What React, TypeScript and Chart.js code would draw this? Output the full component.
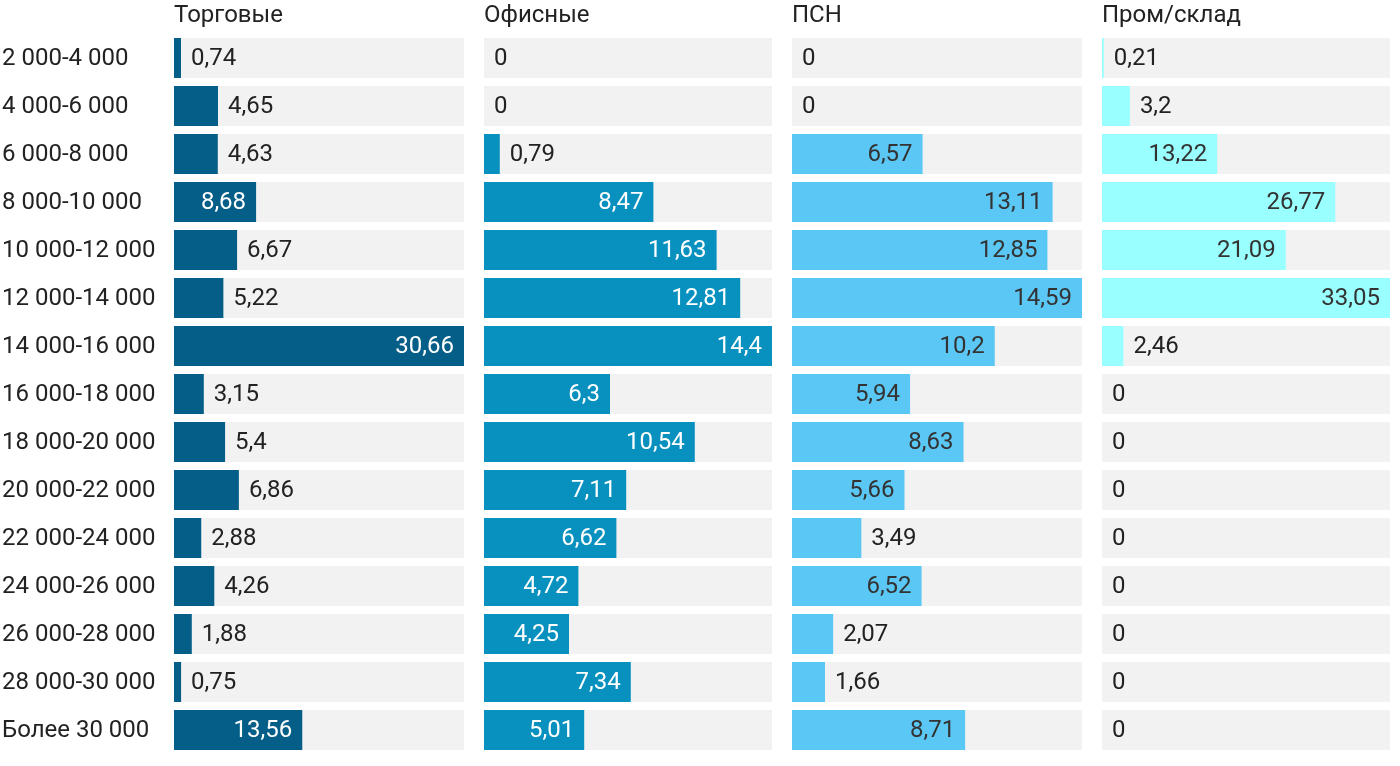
import React, { useEffect, useRef } from "react";
import { Chart, registerables } from "chart.js";

Chart.register(...registerables);

// ---------- data ----------
const categories = [
  "2 000-4 000",
  "4 000-6 000",
  "6 000-8 000",
  "8 000-10 000",
  "10 000-12 000",
  "12 000-14 000",
  "14 000-16 000",
  "16 000-18 000",
  "18 000-20 000",
  "20 000-22 000",
  "22 000-24 000",
  "24 000-26 000",
  "26 000-28 000",
  "28 000-30 000",
  "Более 30 000",
];

const panelTitles = ["Торговые", "Офисные", "ПСН", "Пром/склад"];

const retail = [0.74, 4.65, 4.63, 8.68, 6.67, 5.22, 30.66, 3.15, 5.4, 6.86, 2.88, 4.26, 1.88, 0.75, 13.56];
const office = [0, 0, 0.79, 8.47, 11.63, 12.81, 14.4, 6.3, 10.54, 7.11, 6.62, 4.72, 4.25, 7.34, 5.01];
const psn = [0, 0, 6.57, 13.11, 12.85, 14.59, 10.2, 5.94, 8.63, 5.66, 3.49, 6.52, 2.07, 1.66, 8.71];
const industrial = [0.21, 3.2, 13.22, 26.77, 21.09, 33.05, 2.46, 0, 0, 0, 0, 0, 0, 0, 0];

const seriesList = [retail, office, psn, industrial];

// ---------- styles ----------
const FONT_FAMILY = "Roboto, 'Noto Sans', 'DejaVu Sans', sans-serif";
const FONT_SIZE = 24;
const TEXT_DARK = "#222222";
const TRACK = "#f2f2f2";
const barColors = ["#045e87", "#0891bf", "#5bc7f5", "#99ffff"];
const insideText = ["#ffffff", "#ffffff", "#333333", "#333333"];

const panelLayout = [
  { left: 0, width: 464, showLabels: true },
  { left: 484, width: 288, showLabels: false },
  { left: 792, width: 290, showLabels: false },
  { left: 1102, width: 288, showLabels: false },
];

const CANVAS_H = 766;

const fmt = (v: number) => String(v).replace(".", ",");

const valueLabelPlugin = {
  id: "valueLabels",
  afterDatasetsDraw(chart: any, _args: any, opts: any) {
    const meta = chart.getDatasetMeta(0);
    const data = chart.data.datasets[0].data as number[];
    const ctx = chart.ctx;
    ctx.save();
    ctx.font = `${FONT_SIZE}px ${FONT_FAMILY}`;
    ctx.textBaseline = "middle";
    meta.data.forEach((el: any, i: number) => {
      const text = fmt(data[i]);
      const tw = ctx.measureText(text).width;
      const barW = el.x - el.base;
      const y = el.y + 1;
      if (barW - tw >= 26) {
        ctx.textAlign = "right";
        ctx.fillStyle = opts.inside;
        ctx.fillText(text, el.x - 10, y);
      } else {
        ctx.textAlign = "left";
        ctx.fillStyle = TEXT_DARK;
        ctx.fillText(text, el.x + 10, y);
      }
    });
    ctx.restore();
  },
};

function Panel({ index }: { index: number }) {
  const ref = useRef<HTMLCanvasElement | null>(null);
  const layout = panelLayout[index];
  useEffect(() => {
    if (!ref.current) return;
    const values = seriesList[index];
    const maxV = Math.max(...values);
    const track = values.map(() => maxV);
    const chart = new Chart(ref.current, {
      type: "bar",
      data: {
        labels: categories,
        datasets: [
          {
            data: values,
            backgroundColor: barColors[index],
            borderWidth: 0,
            barThickness: 40,
            inflateAmount: 0,
            grouped: false,
            order: 0,
          } as any,
          {
            data: track,
            backgroundColor: TRACK,
            borderWidth: 0,
            barThickness: 40,
            inflateAmount: 0,
            grouped: false,
            order: 1,
          } as any,
        ],
      },
      options: {
        indexAxis: "y",
        responsive: false,
        animation: false,
        layout: {
          padding: { left: layout.showLabels ? 2 : 0, right: 0, top: 0, bottom: 12 },
        },
        plugins: {
          legend: { display: false },
          tooltip: { enabled: false },
          valueLabels: { inside: insideText[index] },
        } as any,
        scales: {
          x: {
            type: "linear",
            position: "top",
            min: 0,
            max: maxV,
            grid: { display: false },
            border: { display: false },
            ticks: { display: false },
            title: {
              display: true,
              text: panelTitles[index],
              align: "start",
              color: TEXT_DARK,
              font: { family: FONT_FAMILY, size: FONT_SIZE, lineHeight: 1.2 },
              padding: { top: 2, bottom: 0 },
            },
            afterFit: (s: any) => {
              s.height = 34;
            },
          },
          y: {
            type: "category",
            display: layout.showLabels,
            grid: { display: false, drawTicks: false },
            border: { display: false },
            ticks: {
              color: TEXT_DARK,
              font: { family: FONT_FAMILY, size: FONT_SIZE, lineHeight: 1 },
              crossAlign: "far",
              padding: 0,
              labelOffset: 1,
            },
            afterFit: (s: any) => {
              s.width = layout.showLabels ? 172 : 0;
            },
          },
        },
      } as any,
      plugins: [valueLabelPlugin],
    });
    let alive = true;
    (document as any).fonts?.ready?.then(() => {
      if (alive) chart.update();
    });
    return () => {
      alive = false;
      chart.destroy();
    };
  }, [index]);
  return (
    <canvas
      ref={ref}
      width={layout.width}
      height={CANVAS_H}
      style={{
        position: "absolute",
        left: layout.left,
        top: 0,
        width: layout.width,
        height: CANVAS_H,
        display: "block",
      }}
    />
  );
}

export default function App() {
  return (
    <div
      style={{
        position: "absolute",
        left: 0,
        top: 0,
        width: 1400,
        height: CANVAS_H,
        background: "#ffffff",
        overflow: "hidden",
      }}
    >
      {panelLayout.map((_, i) => (
        <Panel key={i} index={i} />
      ))}
    </div>
  );
}
